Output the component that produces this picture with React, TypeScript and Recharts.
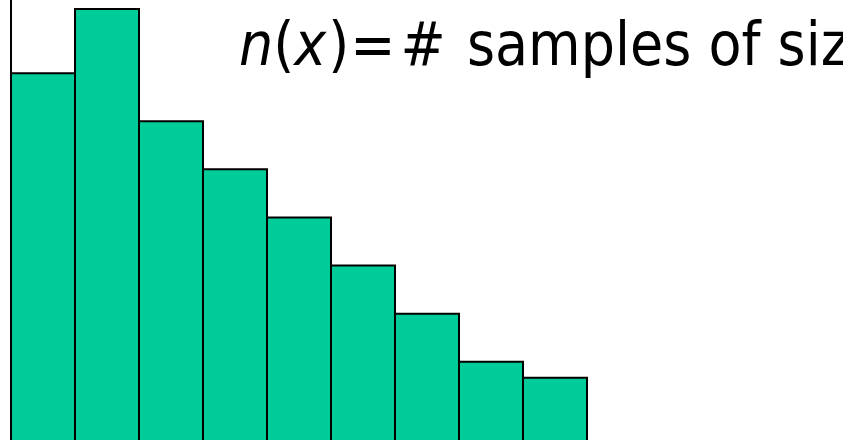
import React from "react";
import { BarChart, Bar, XAxis, YAxis } from "recharts";

const categories = ["1", "2", "3", "4", "5", "6", "7", "8", "9"];
const counts = [23, 27, 20, 17, 14, 11, 8, 5, 4];

const data = categories.map((c, i) => ({ name: c, n: counts[i] }));

const FONT = "'DejaVu Sans Condensed', 'DejaVu Sans', Tahoma, sans-serif";

export default function App() {
  return (
    <div style={{ width: 843, height: 440, position: "relative", overflow: "hidden", background: "#fff" }}>
      <style>{`html,body{margin:0;padding:0;}`}</style>
      <BarChart
        width={843}
        height={442}
        data={data}
        margin={{ top: 0, right: 256, bottom: 0, left: 0 }}
        barCategoryGap={0}
      >
        <XAxis dataKey="name" hide />
        <YAxis
          domain={[0, 27.56]}
          width={11}
          tick={false}
          tickLine={false}
          axisLine={{ stroke: "#000", strokeWidth: 2 }}
        />
        <Bar dataKey="n" fill="#00CC99" stroke="#000" strokeWidth={2} isAnimationActive={false} />
      </BarChart>
      <svg width={843} height={440} style={{ position: "absolute", left: 0, top: 0, pointerEvents: "none" }}>
        <text x={239} y={65} fontFamily={FONT} fontSize={60} fill="#000" style={{ fontStretch: "condensed" }}>
          <tspan fontStyle="italic">n</tspan>
          <tspan>(</tspan>
          <tspan fontStyle="italic">x</tspan>
          <tspan dx={2}>)</tspan>
          <tspan dx={1}>=</tspan>
          <tspan dx={5}>#</tspan>
          <tspan dx={4}> samples of size x</tspan>
        </text>
      </svg>
    </div>
  );
}
